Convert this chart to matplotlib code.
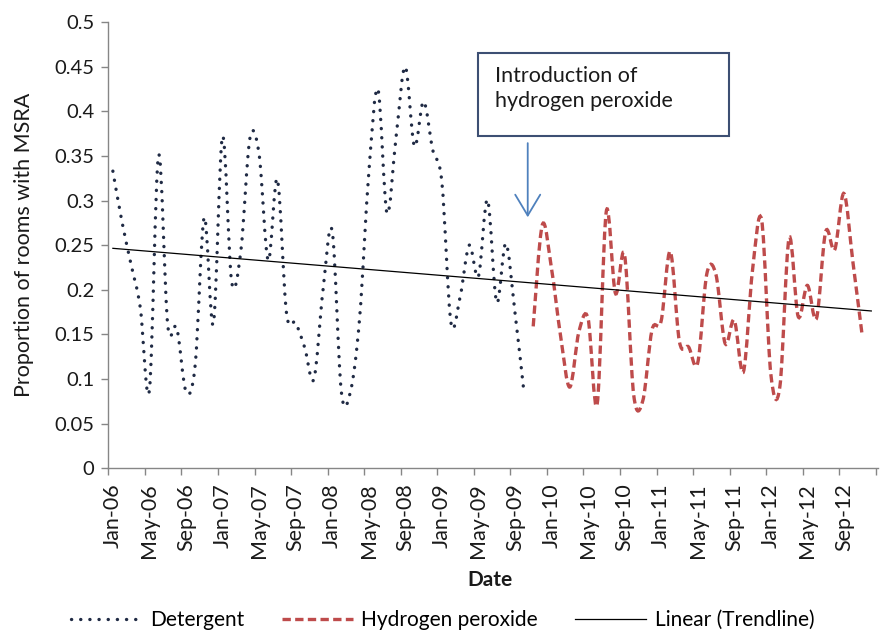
import numpy as np
import matplotlib
matplotlib.use("Agg")
import matplotlib.pyplot as plt
from matplotlib.path import Path
from matplotlib.patches import PathPatch, Rectangle
from matplotlib.lines import Line2D

plt.rcParams['font.family'] = ['Lato', 'DejaVu Sans']

# monthly proportions, detergent Jan-06 .. Oct-09
detergent = [0.333, 0.276, 0.228, 0.180, 0.088, 0.351, 0.161, 0.157, 0.086, 0.115,
             0.281, 0.162, 0.372, 0.209, 0.243, 0.370, 0.352, 0.233, 0.324, 0.174,
             0.163, 0.135, 0.100, 0.200, 0.266, 0.086, 0.086, 0.168, 0.330, 0.425,
             0.286, 0.372, 0.450, 0.361, 0.411, 0.357, 0.321, 0.163, 0.192, 0.250,
             0.215, 0.301, 0.186, 0.252, 0.175, 0.084]
# hydrogen peroxide Nov-09 .. Nov-12
peroxide = [0.159, 0.273, 0.224, 0.148, 0.091, 0.153, 0.168, 0.072, 0.288, 0.196,
            0.239, 0.082, 0.076, 0.155, 0.165, 0.243, 0.142, 0.136, 0.118, 0.218,
            0.217, 0.140, 0.166, 0.108, 0.222, 0.278, 0.106, 0.092, 0.258, 0.170,
            0.205, 0.168, 0.265, 0.245, 0.308, 0.230, 0.149]
peroxide_start = 46  # months after Jan-06

# linear trendline end points (month index, value)
trend_months = [0, 83]
trend_values = [0.2465, 0.1763]

tick_labels = ["Jan-06", "May-06", "Sep-06", "Jan-07", "May-07", "Sep-07", "Jan-08",
               "May-08", "Sep-08", "Jan-09", "May-09", "Sep-09", "Jan-10", "May-10",
               "Sep-10", "Jan-11", "May-11", "Sep-11", "Jan-12", "May-12", "Sep-12"]
y_ticks = [0, 0.05, 0.1, 0.15, 0.2, 0.25, 0.3, 0.35, 0.4, 0.45, 0.5]
y_labels = ["0", "0.05", "0.1", "0.15", "0.2", "0.25", "0.3", "0.35", "0.4", "0.45", "0.5"]

DET_COLOR = '#1f2a44'
HP_COLOR = '#be4b4b'
AXIS_GRAY = '#868686'
TXT = '#1a1a1a'
DOTS = (0, (0.05, 2.7))
DASHES = (0, (2.5, 1.3))


def smooth_path(x, y):
    # excel-like smoothed line: cubic bezier through every point
    pts = np.column_stack([x, y])
    n = len(pts)
    verts = [pts[0]]
    codes = [Path.MOVETO]
    for k in range(n - 1):
        p0 = pts[k - 1] if k > 0 else pts[k]
        p1 = pts[k]
        p2 = pts[k + 1]
        p3 = pts[k + 2] if k + 2 < n else pts[k + 1]
        verts += [p1 + (p2 - p0) / 6, p2 - (p3 - p1) / 6, p2]
        codes += [Path.CURVE4] * 3
    return Path(verts, codes)


fig = plt.figure(figsize=(8.8, 6.3), dpi=100)
ax = fig.add_axes([0.12307, 0.25667, 0.87432, 0.70825])

det_x = np.arange(len(detergent)) + 0.5
hp_x = np.arange(len(peroxide)) + peroxide_start + 0.5

ax.add_patch(PathPatch(smooth_path(det_x, detergent), fill=False, edgecolor=DET_COLOR,
                       lw=2.4, linestyle=DOTS, capstyle='round', zorder=2))
ax.add_patch(PathPatch(smooth_path(hp_x, peroxide), fill=False, edgecolor=HP_COLOR,
                       lw=2.4, linestyle=DASHES, capstyle='butt', zorder=2))
ax.plot(np.array(trend_months) + 0.5, trend_values, color='black', lw=0.9, zorder=3)

ax.set_xlim(0, 84.2)
ax.set_ylim(0, 0.5)

for s in ['top', 'right']:
    ax.spines[s].set_visible(False)
for s in ['left', 'bottom']:
    ax.spines[s].set_color(AXIS_GRAY)
    ax.spines[s].set_linewidth(1.0)

ax.set_xticks(np.arange(0, 85, 4))
ax.set_xticklabels([])
ax.set_xticks(np.arange(len(tick_labels)) * 4 + 0.5, minor=True)
ax.set_xticklabels(tick_labels, minor=True, rotation=90, fontsize=15.5, color=TXT)
ax.tick_params(axis='x', which='major', length=5, width=1, color=AXIS_GRAY, direction='out')
ax.tick_params(axis='x', which='minor', length=0, pad=11)

ax.set_yticks(y_ticks)
ax.set_yticklabels(y_labels, fontsize=14.5, color=TXT)
ax.tick_params(axis='y', length=5, width=1, color=AXIS_GRAY, direction='out', pad=5)

ax.set_ylabel("Proportion of rooms with MSRA", fontsize=15.5, color=TXT)
ax.yaxis.set_label_coords(-0.097, 0.5)
ax.set_xlabel("Date", fontsize=15, fontweight='bold', color=TXT)
ax.xaxis.set_label_coords(0.496, -0.228)

# annotation box and arrow
ax.add_patch(Rectangle((0.4801, 0.7447), 0.327, 0.1867, transform=ax.transAxes,
                       facecolor='white', edgecolor='#3d4f73', lw=1.5, zorder=4))
ax.text(0.5025, 0.8516, "Introduction of\nhydrogen peroxide", transform=ax.transAxes,
        ha='left', va='center', fontsize=15.5, linespacing=1.3, color=TXT, zorder=5)
ax.annotate("", xy=(45.9, 0.2782), xytext=(45.9, 0.3675),
            arrowprops=dict(arrowstyle='->,head_length=0.75,head_width=0.45',
                            color='#4f81bd', lw=1.3, mutation_scale=20), zorder=5)

handles = [Line2D([], [], color=DET_COLOR, lw=2.4, linestyle=DOTS, dash_capstyle='round'),
           Line2D([], [], color=HP_COLOR, lw=2.4, linestyle=DASHES),
           Line2D([], [], color='black', lw=0.9)]
fig.legend(handles, ["Detergent", "Hydrogen peroxide", "Linear (Trendline)"],
           loc='center', bbox_to_anchor=(0.503, 0.016), ncol=3, frameon=False,
           fontsize=15, handlelength=3.4, handletextpad=0.4, columnspacing=1.8)

fig.savefig("out.png", dpi=100)
